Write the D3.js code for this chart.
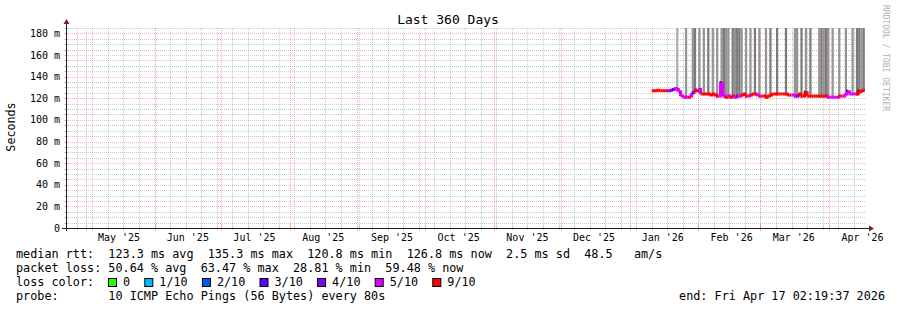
<!DOCTYPE html>
<html>
<head>
<meta charset="utf-8">
<script src="https://cdn.jsdelivr.net/npm/d3@7"></script>
<style>
  body { margin: 0; background: #fff; }
  svg text { font-family: "DejaVu Sans Mono", monospace; white-space: pre; }
</style>
</head>
<body>
<svg id="chart" width="897" height="310"></svg>
<script>
// time window of the graph (360 days ending at the probe time)
const endTime = "2026-04-17T02:19:37Z";
const firstDay = "2026-01-11";

// month labels under the x axis
const xTickDates = ["2025-05-16", "2025-06-16", "2025-07-16", "2025-08-16", "2025-09-16", "2025-10-16",
                    "2025-11-16", "2025-12-16", "2026-01-16", "2026-02-16", "2026-03-16", "2026-04-16"];
const xTickLabels = ["May '25", "Jun '25", "Jul '25", "Aug '25", "Sep '25", "Oct '25",
                     "Nov '25", "Dec '25", "Jan '26", "Feb '26", "Mar '26", "Apr '26"];
const yTickValues = [0, 20, 40, 60, 80, 100, 120, 140, 160, 180];
const yTickLabels = ["0", "20 m", "40 m", "60 m", "80 m", "100 m", "120 m", "140 m", "160 m", "180 m"];

// daily median rtt (ms), one per day from firstDay
const medianMs = [127, 127, 127.5, 127, 127, 127, 127, 127, 127.5, 128,
                  129, 128, 126, 122, 121, 121, 121, 122, 125, 127,
                  127, 128, 124, 124, 124, 124, 123, 124, 123, 122,
                  122, 134, 122, 121, 122, 121, 122, 121, 122, 122,
                  123, 124, 122, 122, 123, 124, 124, 123, 122, 122,
                  122, 121, 122, 123, 124, 124, 124, 124, 124, 124,
                  124, 123, 123, 123, 122, 122, 124, 122, 122, 125,
                  122, 122, 122, 122, 122, 122, 122, 122, 122, 121,
                  121, 121, 121, 121, 122, 122, 122, 124, 126, 124,
                  124, 124, 124, 126, 127, 127.5];
// packets lost out of 10, per day
const lossTenths = [9, 9, 9, 9, 9, 9, 9, 4, 4, 3,
                    5, 5, 5, 5, 5, 5, 9, 5, 4, 9,
                    9, 5, 9, 9, 9, 9, 9, 9, 9, 9,
                    5, 5, 5, 9, 5, 9, 9, 5, 4, 5,
                    9, 9, 9, 5, 9, 9, 9, 5, 5, 9,
                    9, 9, 9, 9, 9, 9, 9, 9, 9, 9,
                    9, 9, 9, 5, 5, 4, 9, 9, 9, 9,
                    9, 9, 9, 9, 9, 9, 9, 9, 9, 5,
                    5, 5, 5, 5, 9, 9, 5, 5, 5, 5,
                    5, 5, 9, 9, 9, 9];
// days (index from firstDay) whose smoke runs off the top, with shade 1..3
const spikeDays = [[11, 1], [15, 2], [18, 2], [19, 3], [21, 2], [23, 2], [25, 3], [27, 2], [29, 2],
                   [31, 2], [32, 3], [33, 2], [34, 2], [36, 3], [37, 2], [38, 3], [39, 3], [40, 2],
                   [42, 2], [44, 2], [46, 3], [48, 2], [51, 2], [53, 3], [56, 3], [60, 3], [64, 2],
                   [65, 2], [67, 3], [69, 2], [71, 3], [75, 2], [76, 3], [77, 2], [78, 3], [79, 2],
                   [81, 2], [84, 2], [87, 2], [90, 2], [92, 3], [93, 3], [94, 2], [95, 3]];
// dense dark smoke above the median: [day, top ms]
const darkSpikes = [[20, 129], [31, 136], [69, 127], [88, 128], [93, 128]];

const lossLegend = ["0", "1/10", "2/10", "3/10", "4/10", "5/10", "9/10"];
const lossColors = ["#26ff00", "#00b8ff", "#0059ff", "#5e00ff", "#7e00ff", "#dd00ff", "#ff0000"];

const statsLines = [
    "median rtt:  123.3 ms avg  135.3 ms max  120.8 ms min  126.8 ms now  2.5 ms sd  48.5   am/s",
    "packet loss: 50.64 % avg  63.47 % max  28.81 % min  59.48 % now",
    "loss color:",
    "probe:       10 ICMP Echo Pings (56 Bytes) every 80s"
];
const endLabel = "end: Fri Apr 17 02:19:37 2026";

const svg = d3.select("#chart");
const plotLeft = 66, plotRight = 865, plotTop = 28, plotBottom = 228;

const end = new Date(endTime);
const start = d3.utcDay.offset(end, -360);
const x = d3.scaleUtc().domain([start, end]).range([plotLeft, plotRight]);
const y = d3.scaleLinear().domain([0, 185]).range([plotBottom, plotTop]);
const lossColor = d3.scaleThreshold().domain([1, 2, 3, 4, 5, 6]).range(lossColors);
const day0 = new Date(firstDay + "T00:00:00Z");
const dayX = i => x(d3.utcDay.offset(day0, i));

const minorCol = "rgba(140,140,140,0.45)";
const majorCol = "rgba(255,70,70,0.4)";

// horizontal grid
const hg = svg.append("g");
hg.selectAll("line.minor")
    .data(d3.range(0, 186, 5).filter(v => v % 20 != 0))
    .enter().append("line").attr("class", "minor")
    .attr("x1", plotLeft).attr("x2", plotRight)
    .attr("y1", d => Math.round(y(d)) + 0.5).attr("y2", d => Math.round(y(d)) + 0.5)
    .style("stroke", minorCol).style("stroke-dasharray", "1 1");
hg.selectAll("line.major")
    .data(yTickValues.filter(v => v > 0))
    .enter().append("line").attr("class", "major")
    .attr("x1", plotLeft).attr("x2", plotRight)
    .attr("y1", d => Math.round(y(d)) + 0.5).attr("y2", d => Math.round(y(d)) + 0.5)
    .style("stroke", majorCol).style("stroke-dasharray", "1 1");

// vertical grid: weeks and months
const weeks = d3.utcSunday.range(start, end);
const months = d3.utcMonth.range(start, end);
const vg = svg.append("g");
vg.selectAll("line.minor")
    .data(weeks).enter().append("line").attr("class", "minor")
    .attr("x1", d => Math.round(x(d)) + 0.5).attr("x2", d => Math.round(x(d)) + 0.5)
    .attr("y1", plotTop).attr("y2", plotBottom)
    .style("stroke", minorCol).style("stroke-dasharray", "1 1");
vg.selectAll("line.major")
    .data(months).enter().append("line").attr("class", "major")
    .attr("x1", d => Math.round(x(d)) + 0.5).attr("x2", d => Math.round(x(d)) + 0.5)
    .attr("y1", plotTop).attr("y2", plotBottom)
    .style("stroke", majorCol).style("stroke-dasharray", "1 1");

// smoke running off the top
const shade = ["#adadad", "#949494", "#7a7a7a"];
svg.append("g").selectAll("rect")
    .data(spikeDays).enter().append("rect")
    .attr("x", d => dayX(d[0]))
    .attr("width", d => dayX(d[0] + 1) - dayX(d[0]))
    .attr("y", plotTop)
    .attr("height", d => y(medianMs[d[0]] - 1.5) - plotTop)
    .style("fill", d => shade[d[1] - 1]);

svg.append("g").selectAll("line")
    .data(darkSpikes).enter().append("line")
    .attr("x1", d => dayX(d[0] + 0.5)).attr("x2", d => dayX(d[0] + 0.5))
    .attr("y1", d => y(d[1])).attr("y2", d => y(medianMs[d[0]] - 1))
    .style("stroke", "#222").style("stroke-width", 2);

// median line, coloured by loss
const line = d3.line().x(d => d[0]).y(d => y(d[1]));
svg.append("g").selectAll("path")
    .data(medianMs.map((v, i) => i))
    .enter().append("path")
    .attr("d", i => {
        const pts = [[dayX(i), medianMs[i]], [dayX(i + 1), medianMs[i]]];
        if (i + 1 < medianMs.length) pts.push([dayX(i + 1), medianMs[i + 1]]);
        return line(pts);
    })
    .style("fill", "none")
    .style("stroke", i => lossColor(lossTenths[i]))
    .style("stroke-width", 3);

// axes
const ax = svg.append("g");
ax.selectAll("line.wt").data(weeks).enter().append("line").attr("class", "wt")
    .attr("x1", d => Math.round(x(d)) + 0.5).attr("x2", d => Math.round(x(d)) + 0.5)
    .attr("y1", plotBottom - 2).attr("y2", plotBottom + 2).style("stroke", minorCol);
ax.selectAll("line.mt").data(months).enter().append("line").attr("class", "mt")
    .attr("x1", d => Math.round(x(d)) + 0.5).attr("x2", d => Math.round(x(d)) + 0.5)
    .attr("y1", plotBottom - 3).attr("y2", plotBottom + 3).style("stroke", majorCol);
ax.selectAll("line.yt").data(d3.range(5, 186, 5)).enter().append("line").attr("class", "yt")
    .attr("x1", plotLeft - 2).attr("x2", plotLeft + 2)
    .attr("y1", d => Math.round(y(d)) + 0.5).attr("y2", d => Math.round(y(d)) + 0.5)
    .style("stroke", d => d % 20 == 0 ? majorCol : minorCol);

ax.append("line").attr("x1", plotLeft - 4).attr("x2", plotRight + 4)
    .attr("y1", plotBottom + 0.5).attr("y2", plotBottom + 0.5).style("stroke", "#1f1f1f");
ax.append("line").attr("x1", plotLeft + 0.5).attr("x2", plotLeft + 0.5)
    .attr("y1", plotBottom + 3).attr("y2", plotTop - 4).style("stroke", "#1f1f1f");
ax.append("path")
    .attr("d", `M${plotRight + 4},${plotBottom - 2.5}L${plotRight + 9},${plotBottom + 0.5}L${plotRight + 4},${plotBottom + 3.5}Z`)
    .style("fill", "#7f1f1f");
ax.append("path")
    .attr("d", `M${plotLeft - 2.5},${plotTop - 4}L${plotLeft + 0.5},${plotTop - 9}L${plotLeft + 3.5},${plotTop - 4}Z`)
    .style("fill", "#7f1f1f");

// tick labels
svg.append("g").selectAll("text")
    .data(yTickValues).enter().append("text")
    .attr("x", 60).attr("y", d => y(d) + 3.5)
    .attr("text-anchor", "end")
    .style("font-size", "10px")
    .text((d, i) => yTickLabels[i]);
svg.append("g").selectAll("text")
    .data(xTickDates).enter().append("text")
    .attr("x", d => x(new Date(d + "T00:00:00Z")))
    .attr("y", 241)
    .attr("text-anchor", "middle")
    .style("font-size", "10px")
    .text((d, i) => xTickLabels[i]);

// title and labels
svg.append("text").attr("x", 448).attr("y", 24).attr("text-anchor", "middle")
    .style("font-size", "13px").text("Last 360 Days");
svg.append("text").attr("transform", "translate(15,127) rotate(-90)")
    .attr("text-anchor", "middle").style("font-size", "11.7px").text("Seconds");
svg.append("text").attr("transform", "translate(883,5) rotate(90)")
    .style("font-size", "8px").style("fill", "#b0b0b0").text("RRDTOOL / TOBI OETIKER");

// legend
const cw = 7.1;
svg.append("g").selectAll("text")
    .data(statsLines).enter().append("text")
    .attr("x", 16).attr("y", (d, i) => 258 + i * 14)
    .style("font-size", "11.8px")
    .text(d => d);

let sx = 108;
const lg = svg.append("g");
lossLegend.forEach((lab, i) => {
    lg.append("rect").attr("x", sx + 0.5).attr("y", 278.5).attr("width", 8).attr("height", 8)
        .style("fill", lossColors[i]).style("stroke", "#000");
    lg.append("text").attr("x", sx + 15).attr("y", 286).style("font-size", "11.8px").text(lab);
    sx = sx + 15 + (lab.length + 2) * cw;
});

svg.append("text").attr("x", 885).attr("y", 300).attr("text-anchor", "end")
    .style("font-size", "11.8px").text(endLabel);
</script>
</body>
</html>
